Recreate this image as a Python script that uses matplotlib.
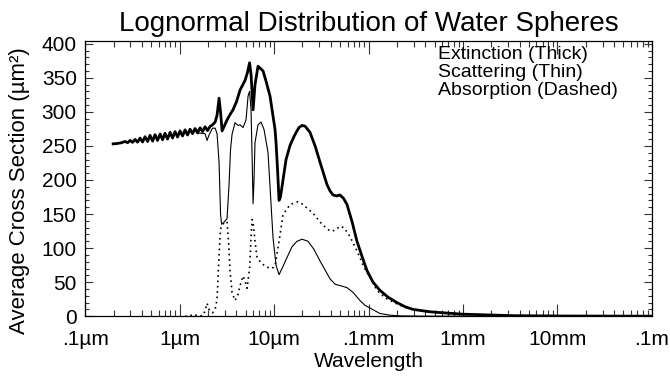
import matplotlib
matplotlib.use("Agg")
import matplotlib.pyplot as plt
from matplotlib.ticker import FixedLocator, LogLocator, MultipleLocator, NullFormatter

plt.rcParams['font.family'] = ['Liberation Sans', 'DejaVu Sans']

# wavelength in micrometres, cross sections in um^2
# short-wave part, where absorption is ~0 and extinction == scattering
wl_vis = [0.198, 0.218, 0.240, 0.265, 0.282, 0.299, 0.318, 0.338, 0.359, 0.382,
          0.406, 0.431, 0.459, 0.487, 0.518, 0.550, 0.585, 0.622, 0.661, 0.702,
          0.746, 0.793, 0.843, 0.896, 0.952, 1.012, 1.076, 1.143, 1.215, 1.291,
          1.373, 1.459, 1.551, 1.648, 1.752]
cs_vis = [253.0, 253.5, 254.5, 256.5, 254.7, 258.0, 255.2, 259.5, 255.5, 261.5,
          255.7, 263.5, 256.5, 265.5, 257.0, 266.5, 258.0, 267.5, 259.0, 268.5,
          260.0, 270.0, 261.5, 271.0, 263.0, 272.0, 264.5, 273.5, 266.0, 274.5,
          268.0, 275.5, 269.0, 276.5, 271.0]

wl_ext = [1.861, 1.979, 2.103, 2.234, 2.38, 2.494, 2.62, 2.715, 2.82, 2.994,
          3.18, 3.42, 3.68, 4.01, 4.37, 4.93, 5.24, 5.51, 5.71, 6.0,
          6.29, 6.77, 7.65, 8.23, 9.07, 10.25, 10.5, 10.9, 11.3, 11.7,
          12.45, 13.4, 14.8, 16.3, 17.5, 18.4, 19.8, 21.3, 24.0, 27.2,
          30.7, 36.4, 39.1, 42.1, 45.9, 49.9, 54.4, 59.2, 66.9, 75.5,
          85.3, 96.4, 111.6, 132, 160.8, 200, 243, 296, 447, 678,
          1000, 1931, 3380, 10600, 100000]
ext = [278.0, 272.5, 278.5, 281, 285, 295, 320, 300, 272, 280,
       288, 296, 303, 315, 332, 346, 358, 372, 355, 303,
       340, 367, 360, 345, 323, 274, 255, 215, 170, 175,
       200, 230, 251, 264, 272, 277, 280, 279, 270, 250,
       226, 193, 184, 178, 176.5, 178, 173, 164, 139, 110,
       88, 67, 50, 38, 28, 20, 14, 10, 6.5, 4.6,
       3.0, 1.8, 0.8, 0.3, 0.05]

wl_sca = [1.861, 1.954, 2.052, 2.234, 2.38, 2.494, 2.62, 2.715, 2.782, 2.957,
          3.18, 3.34, 3.465, 3.594, 3.867, 4.16, 4.37, 4.70, 5.05, 5.31,
          5.51, 5.71, 5.87, 6.0, 6.14, 6.29, 6.77, 7.28, 7.84, 8.64,
          9.76, 10.5, 11.3, 12.15, 13.7, 15.5, 17.5, 19.8, 22.9, 26.5,
          30.7, 39.1, 44.2, 49.9, 59.2, 68.6, 81.3, 91.8, 103.7, 117,
          132, 168.8, 215, 351, 100000]
sca = [268, 258, 266, 276, 276, 268, 225, 150, 135, 138,
       143, 193, 245, 267, 284, 280, 281, 277, 288, 323,
       330, 303, 230, 165, 200, 255, 281, 285, 274, 240,
       115, 75, 61, 70, 86, 102, 110, 113, 110, 98,
       81, 55, 47, 45, 42, 35, 23, 16, 12, 8,
       4, 1.5, 0.5, 0.1, 0.0]

wl_abs = [1.143, 1.291, 1.39, 1.532, 1.648, 1.773, 1.861, 1.954, 2.052, 2.234,
          2.38, 2.494, 2.62, 2.715, 2.82, 2.957, 3.18, 3.30, 3.42, 3.594,
          3.867, 4.16, 4.37, 4.70, 4.93, 5.18, 5.51, 5.71, 5.87, 6.07,
          6.29, 6.61, 7.46, 8.43, 9.52, 10.25, 11.3, 12.45, 14.8, 17.95,
          19.8, 25.9, 32.2, 39.1, 44.2, 49.9, 55.1, 63.6, 75.5, 89.6,
          103.7, 123, 149.5, 200, 243, 296, 447, 678, 1000, 1931,
          3380, 10600, 100000]
absn = [0, 0.5, 3, 1, 0.5, 1, 8, 19, 10, 5,
        10, 25, 90, 128, 134, 137, 139, 110, 67, 35,
        23, 32, 45, 59, 52, 41, 70, 115, 142, 132,
        110, 86, 77, 72, 70, 74, 110, 149, 164, 168,
        165, 151, 135, 125, 126, 132, 130, 117, 96, 72,
        57, 38, 27, 18, 13.5, 9.8, 6.5, 4.6, 3.0, 1.8,
        0.8, 0.3, 0.05]

xticks = [0.1, 1, 10, 100, 1000, 10000, 100000]
xlabels = ['.1\u00b5m', '1\u00b5m', '10\u00b5m', '.1mm', '1mm', '10mm', '.1m']

fig = plt.figure(figsize=(6.7, 3.76), dpi=100)
ax = fig.add_axes([0.127, 0.159, 0.846, 0.732])

ax.plot(wl_vis + wl_ext, cs_vis + ext, color='black', lw=2.0, solid_joinstyle='round')
ax.plot(wl_vis[:-2] + wl_sca, cs_vis[:-2] + sca, color='black', lw=0.8)
ax.plot(wl_abs, absn, color='black', lw=1.2, linestyle=(0, (1, 2.2)))

ax.set_xscale('log')
ax.set_xlim(0.1, 100000)
ax.set_ylim(0, 404)

ax.xaxis.set_major_locator(FixedLocator(xticks))
ax.set_xticklabels(xlabels)
ax.xaxis.set_minor_locator(LogLocator(base=10, subs=range(2, 10), numticks=20))
ax.xaxis.set_minor_formatter(NullFormatter())
ax.yaxis.set_major_locator(MultipleLocator(50))
ax.yaxis.set_minor_locator(MultipleLocator(10))

ax.tick_params(which='both', direction='in', top=True, right=True,
               labelsize=15, width=0.8, color='#333333')
ax.tick_params(axis='x', which='major', length=9, pad=10)
ax.tick_params(axis='x', which='minor', length=4.5)
ax.tick_params(axis='y', which='major', length=6, pad=6)
ax.tick_params(axis='y', which='minor', length=3)
for sp in ax.spines.values():
    sp.set_linewidth(0.9)

ax.set_xlabel('Wavelength', fontsize=15, labelpad=2)
ax.set_ylabel('Average Cross Section (\u00b5m\u00b2)', fontsize=16)
ax.yaxis.set_label_coords(-0.097, 0.458)
ax.set_title('Lognormal Distribution of Water Spheres', fontsize=20, pad=7)

ax.text(0.623, 0.98, 'Extinction (Thick)\nScattering (Thin)\nAbsorption (Dashed)',
        transform=ax.transAxes, ha='left', va='top', fontsize=14, linespacing=1.05)

fig.savefig('out.png', dpi=100)
